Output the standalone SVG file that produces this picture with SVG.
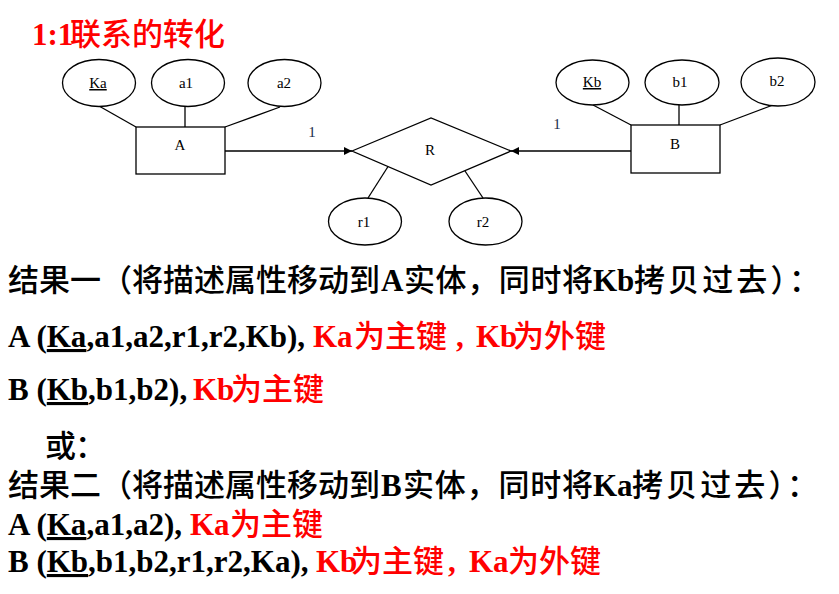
<svg xmlns="http://www.w3.org/2000/svg" width="839" height="594" viewBox="0 0 839 594">
<style>
.bg{fill:#fff}
.shape{fill:#fff;stroke:#000;stroke-width:1.3}
.ln{stroke:#000;stroke-width:1.3;fill:none}
.dt{font-family:"Liberation Serif","Times New Roman",serif;font-size:15px;fill:#000;text-anchor:middle}
.card{font-family:"Liberation Serif","Times New Roman",serif;font-size:15px;fill:#1a2a4a;text-anchor:middle}
.cjk{font-family:"Noto Sans CJK SC","Noto Sans CJK JP",sans-serif;font-size:31px;font-weight:500}
.lat{font-family:"Liberation Serif","Times New Roman",serif;font-size:31px;font-weight:bold}
.red{fill:#ff0000}
.blk{fill:#000}
.u{text-decoration:underline}
</style>
<defs>
<marker id="arr" viewBox="0 0 10 10" refX="10" refY="5" markerWidth="10" markerHeight="8" markerUnits="userSpaceOnUse" orient="auto">
<path d="M0,0 L10,5 L0,10 z" fill="#000"/>
</marker>
</defs>
<rect class="bg" x="0" y="0" width="839" height="594"/>

<g id="title">
<text x="32" y="45" class="red"><tspan class="lat" font-size="30">1:1</tspan><tspan class="cjk" font-size="31" font-weight="bold" x="70">联系的转化</tspan></text>
</g>

<g id="connectors">
<line class="ln" x1="99" y1="106" x2="136" y2="127"/>
<line class="ln" x1="185" y1="106" x2="185" y2="127"/>
<line class="ln" x1="280" y1="107" x2="225" y2="127"/>
<line class="ln" x1="593" y1="105" x2="631" y2="125"/>
<line class="ln" x1="679" y1="105" x2="679" y2="125"/>
<line class="ln" x1="773" y1="105" x2="720" y2="125"/>
<line class="ln" x1="225" y1="151" x2="352" y2="151" marker-end="url(#arr)"/>
<line class="ln" x1="631" y1="151" x2="511" y2="151" marker-end="url(#arr)"/>
<line class="ln" x1="368" y1="198" x2="389" y2="165"/>
<line class="ln" x1="483" y1="198" x2="465" y2="171"/>
<text class="card" x="312" y="137">1</text>
<text class="card" x="557" y="129">1</text>
</g>

<g id="Ka"><ellipse class="shape" cx="99" cy="83" rx="36.5" ry="23.5"/><text class="dt u" x="98" y="88">Ka</text></g>
<g id="a1"><ellipse class="shape" cx="188" cy="83" rx="36.5" ry="23.5"/><text class="dt" x="186" y="88">a1</text></g>
<g id="a2"><ellipse class="shape" cx="284.5" cy="83" rx="36.5" ry="23.5"/><text class="dt" x="284" y="88">a2</text></g>
<g id="A"><rect class="shape" x="136" y="127" width="89" height="47"/><text class="dt" x="180" y="150">A</text></g>
<g id="R"><polygon class="shape" points="352,151 431,118 511,151 431,185"/><text class="dt" x="430" y="155">R</text></g>
<g id="r1"><ellipse class="shape" cx="365" cy="221.5" rx="36.5" ry="23.5"/><text class="dt" x="364" y="227">r1</text></g>
<g id="r2"><ellipse class="shape" cx="485.5" cy="221.5" rx="36.5" ry="23.5"/><text class="dt" x="483" y="227">r2</text></g>
<g id="Kb"><ellipse class="shape" cx="592.5" cy="82.5" rx="36.5" ry="22.5"/><text class="dt u" x="592" y="87">Kb</text></g>
<g id="b1"><ellipse class="shape" cx="682" cy="82.5" rx="37" ry="22.5"/><text class="dt" x="680" y="87">b1</text></g>
<g id="b2"><ellipse class="shape" cx="778" cy="82" rx="37" ry="24"/><text class="dt" x="777" y="86">b2</text></g>
<g id="B"><rect class="shape" x="631" y="125" width="89" height="48"/><text class="dt" x="675" y="149">B</text></g>

<g id="text1">
<text y="291" class="blk"><tspan class="cjk" x="8" textLength="372">结果一（将描述属性移动到</tspan><tspan class="lat" x="381">A</tspan><tspan class="cjk" x="404" textLength="189">实体，同时将</tspan><tspan class="lat" x="593">Kb</tspan><tspan class="cjk" x="634" textLength="186">拷贝过去）：</tspan></text>
</g>
<g id="text2">
<text y="347"><tspan class="lat blk" x="8">A (<tspan class="u">Ka</tspan>,a1,a2,r1,r2,Kb),</tspan><tspan class="lat red" x="313">Ka</tspan><tspan class="cjk red" x="354" font-size="34">为主键</tspan><tspan class="lat red" x="456">,</tspan><tspan class="lat red" x="476">Kb</tspan><tspan class="cjk red" x="513" font-size="29">为外键</tspan></text>
</g>
<g id="text3">
<text y="400"><tspan class="lat blk" x="8">B (<tspan class="u">Kb</tspan>,b1,b2),</tspan><tspan class="lat red" x="193">Kb</tspan><tspan class="cjk red" x="231" font-size="33">为主键</tspan></text>
</g>
<g id="text4">
<text y="457" class="blk"><tspan class="cjk" x="45">或</tspan><tspan class="cjk" x="75">：</tspan></text>
</g>
<g id="text5">
<text y="496" class="blk"><tspan class="cjk" x="8" textLength="372">结果二（将描述属性移动到</tspan><tspan class="lat" x="381">B</tspan><tspan class="cjk" x="403" textLength="190">实体，同时将</tspan><tspan class="lat" x="593">Ka</tspan><tspan class="cjk" x="632" textLength="186">拷贝过去）：</tspan></text>
</g>
<g id="text6">
<text y="535"><tspan class="lat blk" x="8">A (<tspan class="u">Ka</tspan>,a1,a2),</tspan><tspan class="lat red" x="190">Ka</tspan><tspan class="cjk red" x="230" font-size="31">为主键</tspan></text>
</g>
<g id="text7">
<text y="572"><tspan class="lat blk" x="8">B (<tspan class="u">Kb</tspan>,b1,b2,r1,r2,Ka),</tspan><tspan class="lat red" x="316">Kb</tspan><tspan class="cjk red" x="351" font-size="33">为主键</tspan><tspan class="lat red" x="448">,</tspan><tspan class="lat red" x="469">Ka</tspan><tspan class="cjk red" x="508" font-size="31">为外键</tspan></text>
</g>
</svg>
